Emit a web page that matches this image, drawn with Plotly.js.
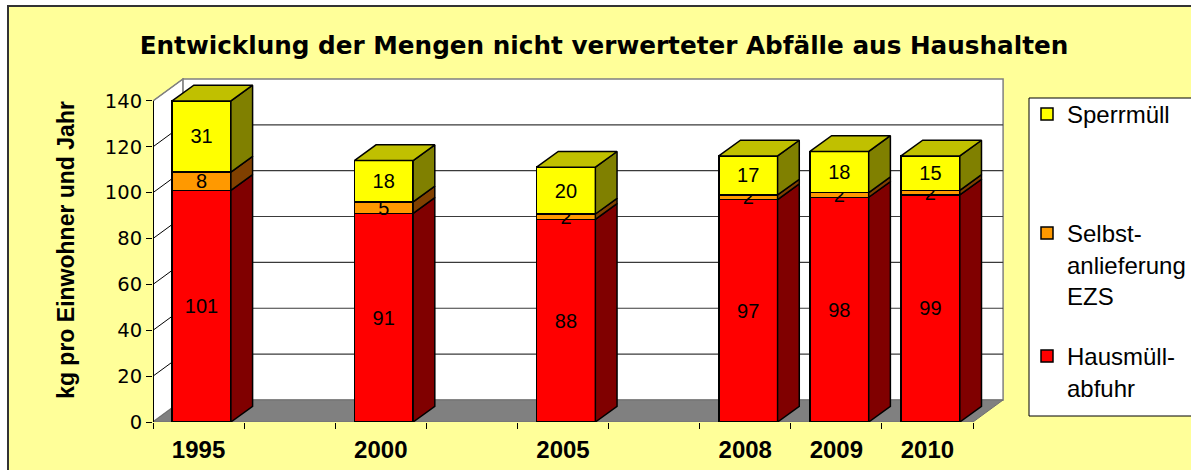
<!DOCTYPE html>
<html><head><meta charset="utf-8">
<script src="https://cdn.plot.ly/plotly-3.0.1.min.js"></script>
<style>html,body{margin:0;padding:0;background:#fff}</style>
</head><body><div id="chart" style="width:1191px;height:470px"></div>
<script>
// ---- data ----
const years = ['1995', '2000', '2005', '2008', '2009', '2010'];
const slots = [0, 2, 4, 6, 7, 8]; // category slot on the axis (empty slots between 1995/2000/2005/2008)
const hausmuell = [101, 91, 88.4, 97, 98, 99];
const selbst = [8, 5, 2.3, 2, 2, 2];
const sperr = [31, 18, 20.4, 17, 18, 15];
const nameHaus = 'Hausmüll-<br>abfuhr';
const nameSelbst = 'Selbst-<br>anlieferung<br>EZS';
const nameSperr = 'Sperrmüll';
const yTicks = [0, 20, 40, 60, 80, 100, 120, 140];
const chartTitle = 'Entwicklung der Mengen nicht verwerteter Abfälle aus Haushalten';
const yTitle = 'kg pro Einwohner und Jahr';

// ---- geometry (oblique 3D look) ----
const W = 1191, H = 470;
const ML = 153, MT = 78, MR = 187, MB = 48;
const PW = W - ML - MR, PH = H - MT - MB;
const X0 = -0.5, X1 = 8.5, XMAX = 8.84, YMAX = 150, YTOP = 140;
const WDX = 0.33, WDY = 9.6;      // wall depth
const BW = 0.645, BOFF = -0.29;   // bar width / offset
const BDX = 0.238, BDY = 6.85;    // bar depth
const px2x = p => (p - ML) / PW;
const py2y = p => (H - MB - p) / PH;

const cYellow = '#FFFF00', cOrange = '#FF9900', cRed = '#FF0000';
const sideYellow = '#808000', topYellow = '#C0C000', sideOrange = '#804000', sideRed = '#800000';

const F = 'Liberation Sans, Arial, sans-serif';
const FD = 'DejaVu Sans, sans-serif';

function barTrace(vals, name, color, legend) {
  return {
    type: 'bar', x: slots, y: vals, name: name, legend: legend,
    width: BW, offset: BOFF,
    marker: {color: color, line: {color: '#000', width: 1.5}},
    texttemplate: '%{y:.0f}', textposition: 'inside', insidetextanchor: 'middle',
    textangle: 0, insidetextfont: {family: F, size: 20, color: '#000'},
    hoverinfo: 'skip'
  };
}

function sideFaces(bases, vals, color) {
  const xs = [], ys = [];
  slots.forEach((s, i) => {
    const xr = s + BOFF + BW, b = bases[i], t = bases[i] + vals[i];
    xs.push(xr, xr + BDX, xr + BDX, xr, xr, null);
    ys.push(b, b + BDY, t + BDY, t, b, null);
  });
  return {type: 'scatter', mode: 'lines', x: xs, y: ys, fill: 'toself', fillcolor: color,
    line: {color: '#000', width: 1.5}, showlegend: false, hoverinfo: 'skip'};
}
function topFaces(tops, color) {
  const xs = [], ys = [];
  slots.forEach((s, i) => {
    const xl = s + BOFF, xr = xl + BW, t = tops[i];
    xs.push(xl, xl + BDX, xr + BDX, xr, xl, null);
    ys.push(t, t + BDY, t + BDY, t, t, null);
  });
  return {type: 'scatter', mode: 'lines', x: xs, y: ys, fill: 'toself', fillcolor: color,
    line: {color: '#000', width: 1.5}, showlegend: false, hoverinfo: 'skip'};
}

const base0 = slots.map(() => 0);
const base1 = hausmuell.slice();
const base2 = hausmuell.map((v, i) => v + selbst[i]);
const tops = base2.map((v, i) => v + sperr[i]);

const traces = [
  barTrace(hausmuell, nameHaus, cRed, 'legend3'),
  barTrace(selbst, nameSelbst, cOrange, 'legend2'),
  barTrace(sperr, nameSperr, cYellow, 'legend'),
  sideFaces(base0, hausmuell, sideRed),
  sideFaces(base1, selbst, sideOrange),
  sideFaces(base2, sperr, sideYellow),
  topFaces(tops, topYellow)
];

// ---- decoration shapes ----
const shapes = [];
// chart area
shapes.push({type: 'rect', xref: 'paper', yref: 'paper', layer: 'below',
  x0: px2x(8), x1: px2x(1400), y0: py2y(6), y1: py2y(700),
  fillcolor: '#FFFF99', line: {color: '#333', width: 2}});
// legend box
shapes.push({type: 'rect', xref: 'paper', yref: 'paper', layer: 'below',
  x0: px2x(1029), x1: px2x(1300), y0: py2y(98), y1: py2y(416),
  fillcolor: '#FFFFFF', line: {color: '#000', width: 1}});
// left wall
shapes.push({type: 'path', xref: 'x', yref: 'y', layer: 'below',
  path: `M ${X0},0 L ${X0},${YTOP} L ${X0 + WDX},${YTOP + WDY} L ${X0 + WDX},${WDY} Z`,
  fillcolor: '#FFFFFF', line: {color: '#808080', width: 1.5}});
// back wall
shapes.push({type: 'rect', xref: 'x', yref: 'y', layer: 'below',
  x0: X0 + WDX, x1: X1 + WDX, y0: WDY, y1: YTOP + WDY,
  fillcolor: '#FFFFFF', line: {color: '#808080', width: 1.5}});
// grid on back wall and left wall
yTicks.forEach(v => {
  if (v > 0 && v < YTOP) {
    shapes.push({type: 'line', xref: 'x', yref: 'y', layer: 'below',
      x0: X0 + WDX, x1: X1 + WDX, y0: v + WDY, y1: v + WDY, line: {color: '#3a3a3a', width: 1.2}});
  }
  if (v > 0) {
    shapes.push({type: 'line', xref: 'x', yref: 'y', layer: 'below',
      x0: X0, x1: X0 + WDX, y0: v, y1: v + WDY,
      line: {color: v === YTOP ? '#808080' : '#000', width: 1}});
  }
});
// floor
shapes.push({type: 'path', xref: 'x', yref: 'y', layer: 'below',
  path: `M ${X0},0 L ${X1},0 L ${X1 + WDX},${WDY} L ${X0 + WDX},${WDY} Z`,
  fillcolor: '#808080', line: {color: '#707070', width: 1}});
// value axis line (front left edge)
shapes.push({type: 'line', xref: 'x', yref: 'y', layer: 'above',
  x0: X0, x1: X0, y0: 0, y1: YTOP, line: {color: '#000', width: 2}});

const boundaries = [];
for (let b = X0; b <= X1 + 1e-9; b += 1) boundaries.push(b);

const legendCommon = {
  xref: 'container', yref: 'container', x: 1027 / W, xanchor: 'left', yanchor: 'top',
  bgcolor: 'rgba(0,0,0,0)', borderwidth: 0, valign: 'top',
  font: {family: F, size: 24, color: '#000'}
};

const layout = {
  width: W, height: H,
  margin: {l: ML, r: MR, t: MT, b: MB, autoexpand: false},
  paper_bgcolor: '#FFFFFF', plot_bgcolor: 'rgba(0,0,0,0)',
  barmode: 'stack', bargap: 0,
  uniformtext: {mode: 'show', minsize: 20},
  title: {text: chartTitle, xref: 'container', yref: 'container', x: 604 / W, xanchor: 'center',
    y: 1 - 45 / H, yanchor: 'middle', font: {family: FD, size: 24.7, color: '#000', weight: 'bold'}},
  xaxis: {
    range: [X0, XMAX], showgrid: false, zeroline: false, showline: false,
    tickmode: 'array', tickvals: slots, ticktext: years, ticks: '', ticklabelstandoff: 11,
    tickfont: {family: F, size: 24, color: '#000', weight: 'bold'},
    minor: {tickmode: 'array', tickvals: boundaries, ticks: 'outside', ticklen: 6, tickcolor: '#000', tickwidth: 1, showgrid: false},
    fixedrange: true
  },
  yaxis: {
    range: [0, YMAX], showgrid: false, zeroline: false, showline: false,
    tickmode: 'array', tickvals: yTicks, ticks: 'outside', ticklen: 6, tickcolor: '#000',
    tickfont: {family: FD, size: 19.5, color: '#000'},
    title: {text: yTitle, standoff: 23, font: {family: F, size: 23, color: '#000', weight: 'bold'}},
    fixedrange: true
  },
  shapes: shapes,
  legend: Object.assign({}, legendCommon, {y: 1 - 92 / H}),
  legend2: Object.assign({}, legendCommon, {y: 1 - 211 / H}),
  legend3: Object.assign({}, legendCommon, {y: 1 - 334 / H})
};

Plotly.newPlot('chart', traces, layout, {displayModeBar: false, staticPlot: true});
</script>
</body></html>
